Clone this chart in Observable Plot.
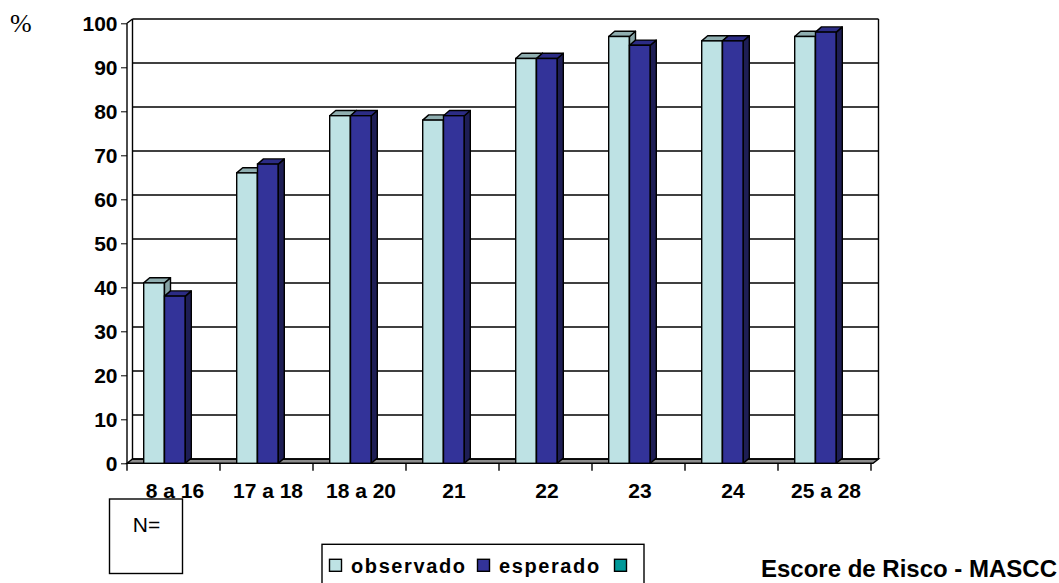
<!DOCTYPE html>
<html>
<head>
<meta charset="utf-8">
<script src="https://cdn.jsdelivr.net/npm/d3@7"></script>
<script src="https://cdn.jsdelivr.net/npm/@observablehq/plot@0.6"></script>
<style>
  body { margin: 0; background: #fff; }
  #chart { position: relative; width: 1059px; height: 583px; overflow: hidden; background: #fff; }
  #chart svg.overlay { position: absolute; left: 0; top: 0; pointer-events: none; }
</style>
</head>
<body>
<div id="chart"></div>
<script>
// Risk score groups (MASCC) and percentage of favourable outcomes
const categories = ["8 a 16", "17 a 18", "18 a 20", "21", "22", "23", "24", "25 a 28"];
const observado  = [41, 66, 79, 78, 92, 97, 96, 97];
const esperado   = [38, 68, 79, 79, 92, 95, 96, 98];
const yTicks     = [0, 10, 20, 30, 40, 50, 60, 70, 80, 90, 100];

const legendLabels = ["observado", "esperado", ""];
const legendColors = ["#BEE2E4", "#333399", "#009999"];
const unitLabel  = "%";
const tableLabel = "N=";
const xTitle     = "Escore de Risco - MASCC";

// 3D look: wall/floor depth and column depth in pixels
const WALL = {dx: 5.5, dy: -4.3};
const COL  = {dx: 6, dy: -5.2};
const BAR_LEAD = 15.7;   // gap from band start to first column
const BAR_W = 20.8;      // width of each column

const faceColors = [
  {front: "#BEE2E4", top: "#8FAEB0", side: "#86A3A5"},
  {front: "#333399", top: "#2C2C85", side: "#1E1E55"}
];

const rowsObs = categories.map((cat, i) => ({cat, value: observado[i]}));
const rowsEsp = categories.map((cat, i) => ({cat, value: esperado[i]}));

function bandOf(x) {
  return x.bandwidth ? x.bandwidth() : (x(categories[1]) - x(categories[0]));
}

// back wall, left wall, floor and the category separators
function walls(index, {x, y}, values, {width, marginLeft, marginRight}) {
  const L = marginLeft, R = width - marginRight;
  const y0 = y(0), yTop = y(yTicks[yTicks.length - 1]);
  const bw = bandOf(x);
  const g = d3.create("svg:g").attr("fill", "none").attr("stroke", "#000").attr("stroke-width", 1.4);
  g.append("path")
    .attr("d", `M${L},${y0}L${R},${y0}L${R + WALL.dx},${y0 + WALL.dy}L${L + WALL.dx},${y0 + WALL.dy}Z`)
    .attr("fill", "#8C8C8C");
  for (const t of yTicks) {
    g.append("line")
      .attr("x1", L + WALL.dx).attr("x2", R + WALL.dx)
      .attr("y1", y(t) + WALL.dy).attr("y2", y(t) + WALL.dy);
  }
  g.append("line").attr("x1", L + WALL.dx).attr("x2", L + WALL.dx)
    .attr("y1", y0 + WALL.dy).attr("y2", yTop + WALL.dy);
  g.append("line").attr("x1", R + WALL.dx).attr("x2", R + WALL.dx)
    .attr("y1", y0 + WALL.dy).attr("y2", yTop + WALL.dy);
  g.append("line").attr("x1", L).attr("x2", L).attr("y1", y0).attr("y2", yTop);
  g.append("line").attr("x1", L).attr("x2", L + WALL.dx).attr("y1", yTop).attr("y2", yTop + WALL.dy);
  for (let i = 0; i <= categories.length; ++i) {
    const xb = L + i * bw;
    g.append("line").attr("x1", xb).attr("x2", xb).attr("y1", y0).attr("y2", y0 + 7.5);
  }
  return g.node();
}

// top and side faces of one series of columns
function columnFaces(rows, k, colors) {
  return (index, {x, y}) => {
    const g = d3.create("svg:g").attr("stroke", "#000").attr("stroke-width", 1.4).attr("stroke-linejoin", "round");
    const yb = y(0);
    for (const d of rows) {
      const x0 = x(d.cat) + BAR_LEAD + k * BAR_W, x1 = x0 + BAR_W;
      const yt = y(d.value);
      g.append("path")
        .attr("d", `M${x1},${yt}L${x1 + COL.dx},${yt + COL.dy}L${x1 + COL.dx},${yb + COL.dy}L${x1},${yb}Z`)
        .attr("fill", colors.side);
      g.append("path")
        .attr("d", `M${x0},${yt}L${x0 + COL.dx},${yt + COL.dy}L${x1 + COL.dx},${yt + COL.dy}L${x1},${yt}Z`)
        .attr("fill", colors.top);
    }
    return g.node();
  };
}

const W = 1059, H = 583;
const marginLeft = 127, marginRight = 186, marginTop = 23.3, marginBottom = 119.7;
const bandW = (W - marginLeft - marginRight) / categories.length;

const chart = Plot.plot({
  width: W,
  height: H,
  marginLeft, marginRight, marginTop, marginBottom,
  style: {
    fontFamily: "'Liberation Sans', Arial, sans-serif",
    fontSize: "21px",
    fontWeight: "bold",
    background: "#fff",
    color: "#000",
    overflow: "visible"
  },
  x: {domain: categories, padding: 0, tickSize: 0, tickPadding: 18.8, label: null},
  y: {domain: [0, 100], ticks: yTicks, tickSize: 6, tickPadding: 4, label: null},
  marks: [
    walls,
    columnFaces(rowsObs, 0, faceColors[0]),
    Plot.barY(rowsObs, {x: "cat", y: "value", fill: faceColors[0].front, stroke: "#000", strokeWidth: 1.4,
      insetLeft: BAR_LEAD, insetRight: bandW - BAR_LEAD - BAR_W}),
    columnFaces(rowsEsp, 1, faceColors[1]),
    Plot.barY(rowsEsp, {x: "cat", y: "value", fill: faceColors[1].front, stroke: "#000", strokeWidth: 1.4,
      insetLeft: BAR_LEAD + BAR_W, insetRight: bandW - BAR_LEAD - 2 * BAR_W})
  ]
});

const root = document.getElementById("chart");
root.appendChild(chart);

// unit label, table stub, legend and axis title
const ov = d3.select(root).append("svg")
  .attr("class", "overlay")
  .attr("width", W).attr("height", H)
  .attr("font-family", "'Liberation Sans', Arial, sans-serif");

ov.append("text").attr("x", 10).attr("y", 32)
  .attr("font-family", "'Liberation Serif', 'Times New Roman', serif")
  .attr("font-size", 26).text(unitLabel);

ov.append("rect").attr("x", 109.5).attr("y", 499).attr("width", 73).attr("height", 74.5)
  .attr("fill", "none").attr("stroke", "#000").attr("stroke-width", 1.4);
ov.append("text").attr("x", 146.5).attr("y", 531.5).attr("text-anchor", "middle")
  .attr("font-size", 21).text(tableLabel);

const lg = ov.append("g");
lg.append("rect").attr("x", 322).attr("y", 544.3).attr("width", 322).attr("height", 50)
  .attr("fill", "#fff").attr("stroke", "#000").attr("stroke-width", 1.4);
const swatchX = [329.5, 477.5, 614.5];
legendLabels.forEach((label, i) => {
  lg.append("rect").attr("x", swatchX[i]).attr("y", 559.3).attr("width", 12).attr("height", 12)
    .attr("fill", legendColors[i]).attr("stroke", "#000").attr("stroke-width", 1.4);
  if (label) {
    lg.append("text").attr("x", swatchX[i] + 21.5).attr("y", 572.7)
      .attr("font-size", 20).attr("font-weight", "bold").attr("letter-spacing", 1.6)
      .text(label);
  }
});

ov.append("text").attr("x", 1057).attr("y", 577.3).attr("text-anchor", "end")
  .attr("font-size", 24).attr("font-weight", "bold").text(xTitle);
</script>
</body>
</html>
